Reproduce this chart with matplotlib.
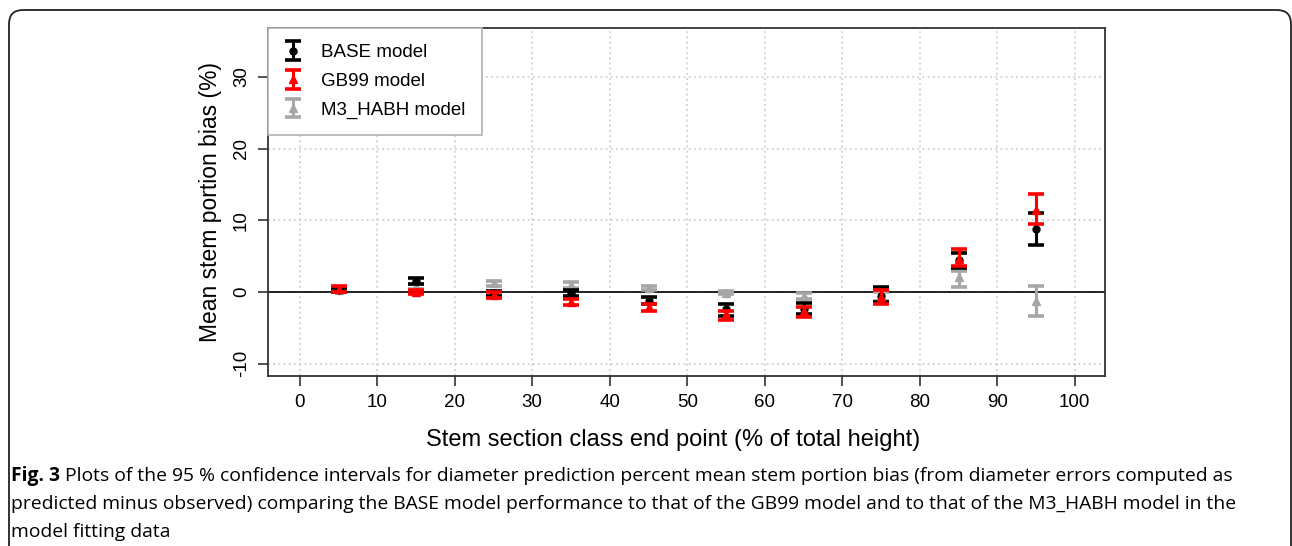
import matplotlib.pyplot as plt
import numpy as np
from matplotlib.patches import FancyBboxPatch

# stem section class midpoints (% of total height)
classes = [5, 15, 25, 35, 45, 55, 65, 75, 85, 95]

# mean bias and 95% CI bounds
base_mean = [0.3, 1.5, -0.2, -0.1, -1.2, -2.4, -2.3, -0.5, 4.4, 8.8]
base_lo = [0.0, 1.15, -0.6, -0.5, -1.6, -3.3, -3.0, -1.4, 3.3, 6.6]
base_hi = [0.6, 1.95, 0.2, 0.25, -0.7, -1.7, -1.5, 0.7, 5.5, 11.0]

gb99_mean = [0.45, 0.05, -0.4, -1.4, -2.1, -3.1, -2.6, -0.7, 4.65, 11.5]
gb99_lo = [0.0, -0.3, -0.8, -1.8, -2.65, -3.9, -3.5, -1.7, 3.6, 9.5]
gb99_hi = [0.8, 0.35, 0.0, -1.0, -1.6, -2.65, -2.1, 0.3, 6.0, 13.7]

m3_mean = [0.3, 0.8, 1.2, 0.95, 0.6, -0.1, -0.55, -0.6, 2.1, -1.2]
m3_lo = [0.1, 0.45, 0.8, 0.55, 0.3, -0.3, -0.9, -1.2, 0.7, -3.4]
m3_hi = [0.6, 1.15, 1.6, 1.4, 0.9, 0.2, -0.1, 0.0, 3.0, 0.8]

labels = ['BASE model', 'GB99 model', 'M3_HABH model']

plt.rcParams['font.family'] = ['Liberation Sans', 'DejaVu Sans']
plt.rcParams['axes.unicode_minus'] = False

W, H = 1292, 546
fig = plt.figure(figsize=(W / 100, H / 100), dpi=100)

# outer rounded frame of the published figure
frame = FancyBboxPatch((9, -60), 1282, 536 + 60, boxstyle='round,pad=0,rounding_size=14',
                       transform=None, fill=False, edgecolor='#222222', linewidth=1.3)
fig.patches.append(frame)

ax = fig.add_axes([268 / W, 1 - 376 / H, (1105 - 268) / W, (376 - 28) / H])
ax.set_xlim(-4.1, 103.9)
ax.set_ylim(-11.7, 36.8)

ax.set_xticks(np.arange(0, 101, 10))
ax.set_yticks(np.arange(-10, 31, 10))
ax.grid(True, color='#c8c8c8', linestyle=(0, (1.2, 2.2)), linewidth=1.1)
ax.set_axisbelow(True)
ax.axhline(0, color='#111111', linewidth=1.3, zorder=1)

for s in ax.spines.values():
    s.set_linewidth(1.3)
    s.set_color('#333333')
ax.tick_params(direction='out', length=7, width=1.2, labelsize=13.5, color='#333333', pad=6)
plt.setp(ax.get_yticklabels(), rotation=90, va='center')

def draw(mean, lo, hi, color, marker, ms, z):
    mean = np.array(mean)
    err = [mean - np.array(lo), np.array(hi) - mean]
    return ax.errorbar(classes, mean, yerr=err, fmt=marker, color=color, ecolor=color,
                       markersize=ms, elinewidth=2.2, capsize=6, capthick=2.6, zorder=z)

h_m3 = draw(m3_mean, m3_lo, m3_hi, '#a6a6a6', '^', 6, 3)
h_base = draw(base_mean, base_lo, base_hi, 'black', 'o', 5, 4)
h_gb = draw(gb99_mean, gb99_lo, gb99_hi, '#ff0000', '^', 6, 5)

leg = ax.legend([h_base, h_gb, h_m3], labels, loc='upper left', borderaxespad=0,
                fancybox=False, edgecolor='#b0b0b0', framealpha=1, fontsize=13.5,
                handlelength=1.0, handletextpad=1.0, borderpad=0.85, labelspacing=0.62)
leg.get_frame().set_linewidth(1.2)

ax.set_xlabel('Stem section class end point (% of total height)', fontsize=17)
ax.xaxis.set_label_coords(0.484, -0.152)
ax.set_ylabel('Mean stem portion bias (%)', fontsize=16.5, labelpad=8)

# caption
cap_fam = ['Open Sans', 'DejaVu Sans']
cap_size = 13.9
renderer = fig.canvas.get_renderer()
t = fig.text(11 / W, 1 - 481 / H, 'Fig. 3', fontsize=cap_size, fontweight='bold',
             family=cap_fam, va='baseline')
bb = t.get_window_extent(renderer)
fig.text((bb.x1 + 5) / W, 1 - 481 / H,
         'Plots of the 95 % confidence intervals for diameter prediction percent mean stem portion bias '
         '(from diameter errors computed as', fontsize=cap_size, family=cap_fam, va='baseline')
fig.text(11 / W, 1 - 509 / H,
         'predicted minus observed) comparing the BASE model performance to that of the GB99 model '
         'and to that of the M3_HABH model in the', fontsize=cap_size, family=cap_fam, va='baseline')
fig.text(11 / W, 1 - 537 / H, 'model fitting data', fontsize=cap_size, family=cap_fam, va='baseline')

fig.savefig('out.png', dpi=100)
